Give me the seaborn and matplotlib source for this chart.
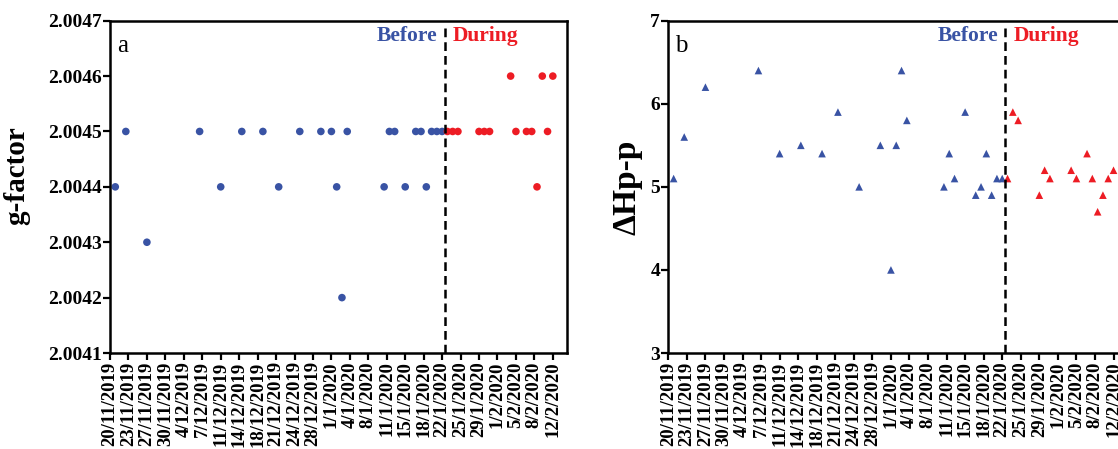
import numpy as np
import pandas as pd
import matplotlib.pyplot as plt
import seaborn as sns

BLUE = "#3953a4"
RED = "#ed1c24"

start = pd.Timestamp("2019-11-20")

before_dates = ["2019-11-21", "2019-11-23", "2019-11-27", "2019-12-07", "2019-12-11",
                "2019-12-15", "2019-12-19", "2019-12-22", "2019-12-26", "2019-12-30",
                "2020-01-01", "2020-01-02", "2020-01-03", "2020-01-04", "2020-01-11",
                "2020-01-12", "2020-01-13", "2020-01-15", "2020-01-17", "2020-01-18",
                "2020-01-19", "2020-01-20", "2020-01-21", "2020-01-22"]
during_dates = ["2020-01-23", "2020-01-24", "2020-01-25", "2020-01-29", "2020-01-30",
                "2020-01-31", "2020-02-04", "2020-02-05", "2020-02-07", "2020-02-08",
                "2020-02-09", "2020-02-10", "2020-02-11", "2020-02-12"]

g_before = [2.0044, 2.0045, 2.0043, 2.0045, 2.0044, 2.0045, 2.0045, 2.0044, 2.0045, 2.0045,
            2.0045, 2.0044, 2.0042, 2.0045, 2.0044, 2.0045, 2.0045, 2.0044, 2.0045, 2.0045,
            2.0044, 2.0045, 2.0045, 2.0045]
g_during = [2.0045, 2.0045, 2.0045, 2.0045, 2.0045, 2.0045, 2.0046, 2.0045, 2.0045, 2.0045,
            2.0044, 2.0046, 2.0045, 2.0046]

dhpp_before = [5.1, 5.6, 6.2, 6.4, 5.4, 5.5, 5.4, 5.9, 5.0, 5.5,
               4.0, 5.5, 6.4, 5.8, 5.0, 5.4, 5.1, 5.9, 4.9, 5.0,
               5.4, 4.9, 5.1, 5.1]
dhpp_during = [5.1, 5.9, 5.8, 4.9, 5.2, 5.1, 5.2, 5.1, 5.4, 5.1,
               4.7, 4.9, 5.1, 5.2]

tick_labels = ["20/11/2019", "23/11/2019", "27/11/2019", "30/11/2019", "4/12/2019",
               "7/12/2019", "11/12/2019", "14/12/2019", "18/12/2019", "21/12/2019",
               "24/12/2019", "28/12/2019", "1/1/2020", "4/1/2020", "8/1/2020",
               "11/1/2020", "15/1/2020", "18/1/2020", "22/1/2020", "25/1/2020",
               "29/1/2020", "1/2/2020", "5/2/2020", "8/2/2020", "12/2/2020"]

split_day = 63.5


def build_frame():
    dates = pd.to_datetime(before_dates + during_dates)
    df = pd.DataFrame({
        "day": (dates - start).days,
        "g": g_before + g_during,
        "dhpp": dhpp_before + dhpp_during,
        "period": ["Before"] * len(before_dates) + ["During"] * len(during_dates),
    })
    return df


def draw_panel(ax, df, col, marker, ylim, yticks, fmt, ylabel, label_size, letter, label_xy):
    sns.scatterplot(data=df, x="day", y=col, hue="period",
                    palette={"Before": BLUE, "During": RED},
                    marker=marker, s=30, linewidth=0, legend=False, ax=ax)
    ax.axvline(split_day, color="black", linestyle=(0, (3.5, 2)), linewidth=1.8, ymax=0.985)

    ax.set_xlim(0, 86.7)
    ax.set_ylim(*ylim)
    ax.set_xticks(np.arange(len(tick_labels)) * 3.5)
    ax.set_xticklabels(tick_labels, rotation=90, fontsize=13.5, fontweight="bold")
    ax.set_yticks(yticks)
    ax.set_yticklabels([fmt.format(v) for v in yticks], fontsize=14, fontweight="bold")
    ax.tick_params(axis="both", direction="out", length=5, width=1.6, pad=1,
                   color="black", labelcolor="black")

    ax.set_xlabel("")
    ax.set_ylabel(ylabel, fontsize=label_size, fontweight="bold", color="black")
    ax.yaxis.set_label_coords(*label_xy)

    for sp in ax.spines.values():
        sp.set_linewidth(1.8)
        sp.set_color("black")
        sp.set_visible(True)

    ax.text(0.015, 0.925, letter, transform=ax.transAxes, fontsize=18,
            ha="left", va="center", color="black")
    trans = ax.get_xaxis_transform()
    ax.annotate("Before", xy=(split_day, 0.955), xycoords=trans,
                xytext=(-5, 0), textcoords="offset points",
                ha="right", va="center", color=BLUE, fontsize=15.5, fontweight="bold")
    ax.annotate("During", xy=(split_day, 0.955), xycoords=trans,
                xytext=(6, 0), textcoords="offset points",
                ha="left", va="center", color=RED, fontsize=15.5, fontweight="bold")


def main():
    sns.set_style("ticks")
    plt.rcParams["font.family"] = ["Liberation Serif", "DejaVu Serif"]

    df = build_frame()

    fig = plt.figure(figsize=(11.18, 4.49), dpi=100)
    ax_a = fig.add_axes([0.0984, 0.2138, 0.4088, 0.7401])
    ax_b = fig.add_axes([0.5978, 0.2138, 0.411, 0.7401])

    draw_panel(ax_a, df, "g", "o", (2.0041, 2.0047),
               [2.0041, 2.0042, 2.0043, 2.0044, 2.0045, 2.0046, 2.0047],
               "{:.4f}", "g-factor", 21, "a", (-0.175, 0.535))
    draw_panel(ax_b, df, "dhpp", "^", (3, 7), [3, 4, 5, 6, 7],
               "{:.0f}", "ΔHp-p", 24, "b", (-0.057, 0.5))

    fig.savefig("out.png", dpi=100)


if __name__ == "__main__":
    main()
